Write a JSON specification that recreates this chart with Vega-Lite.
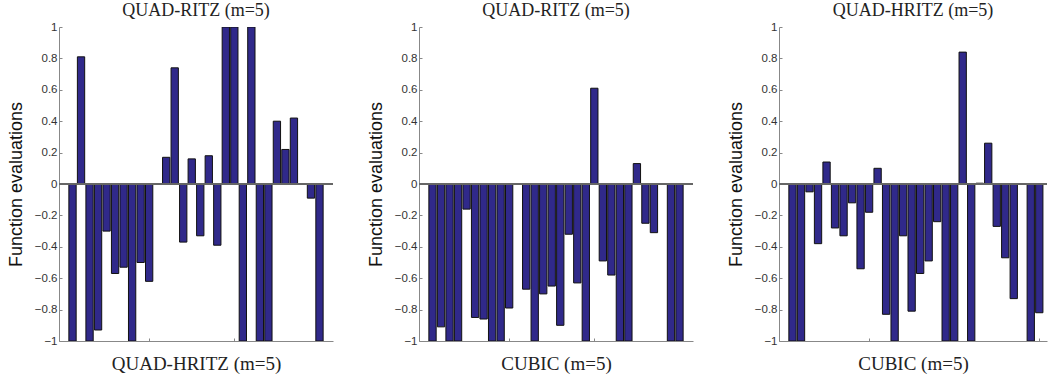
{
  "$schema": "https://vega.github.io/schema/vega-lite/v6.json",
  "padding": {"left": 7, "top": 2, "right": 0, "bottom": 0},
  "datasets": {
    "p1": [
      {"i": 1, "v": -1}, {"i": 2, "v": 0.81}, {"i": 3, "v": -1}, {"i": 4, "v": -0.93}, {"i": 5, "v": -0.3},
      {"i": 6, "v": -0.57}, {"i": 7, "v": -0.53}, {"i": 8, "v": -1}, {"i": 9, "v": -0.5}, {"i": 10, "v": -0.62},
      {"i": 11, "v": 0}, {"i": 12, "v": 0.17}, {"i": 13, "v": 0.74}, {"i": 14, "v": -0.37}, {"i": 15, "v": 0.16},
      {"i": 16, "v": -0.33}, {"i": 17, "v": 0.18}, {"i": 18, "v": -0.39}, {"i": 19, "v": 1}, {"i": 20, "v": 1},
      {"i": 21, "v": -1}, {"i": 22, "v": 1}, {"i": 23, "v": -1}, {"i": 24, "v": -1}, {"i": 25, "v": 0.4},
      {"i": 26, "v": 0.22}, {"i": 27, "v": 0.42}, {"i": 28, "v": 0}, {"i": 29, "v": -0.09}, {"i": 30, "v": -1}
    ],
    "p2": [
      {"i": 1, "v": -1}, {"i": 2, "v": -0.91}, {"i": 3, "v": -1}, {"i": 4, "v": -1}, {"i": 5, "v": -0.16},
      {"i": 6, "v": -0.85}, {"i": 7, "v": -0.86}, {"i": 8, "v": -1}, {"i": 9, "v": -1}, {"i": 10, "v": -0.79},
      {"i": 11, "v": 0}, {"i": 12, "v": -0.67}, {"i": 13, "v": -1}, {"i": 14, "v": -0.7}, {"i": 15, "v": -0.65},
      {"i": 16, "v": -0.9}, {"i": 17, "v": -0.32}, {"i": 18, "v": -0.63}, {"i": 19, "v": -1}, {"i": 20, "v": 0.61},
      {"i": 21, "v": -0.49}, {"i": 22, "v": -0.58}, {"i": 23, "v": -1}, {"i": 24, "v": -1}, {"i": 25, "v": 0.13},
      {"i": 26, "v": -0.25}, {"i": 27, "v": -0.31}, {"i": 28, "v": 0}, {"i": 29, "v": -1}, {"i": 30, "v": -1}
    ],
    "p3": [
      {"i": 1, "v": -1}, {"i": 2, "v": -1}, {"i": 3, "v": -0.05}, {"i": 4, "v": -0.38}, {"i": 5, "v": 0.14},
      {"i": 6, "v": -0.28}, {"i": 7, "v": -0.33}, {"i": 8, "v": -0.12}, {"i": 9, "v": -0.54}, {"i": 10, "v": -0.18},
      {"i": 11, "v": 0.1}, {"i": 12, "v": -0.83}, {"i": 13, "v": -1}, {"i": 14, "v": -0.33}, {"i": 15, "v": -0.81},
      {"i": 16, "v": -0.57}, {"i": 17, "v": -0.49}, {"i": 18, "v": -0.24}, {"i": 19, "v": -1}, {"i": 20, "v": -1},
      {"i": 21, "v": 0.84}, {"i": 22, "v": -1}, {"i": 23, "v": 0.005}, {"i": 24, "v": 0.26}, {"i": 25, "v": -0.27},
      {"i": 26, "v": -0.47}, {"i": 27, "v": -0.73}, {"i": 28, "v": 0}, {"i": 29, "v": -1}, {"i": 30, "v": -0.82}
    ]
  },
  "hconcat": [
    {
      "width": 274, "height": 314,
      "data": {"name": "p1"},
      "title": {"text": "QUAD-RITZ (m=5)"},
      "layer": [
        {
          "mark": {"type": "bar", "width": 7.3, "color": "#30298a", "stroke": "#111111", "strokeWidth": 1, "clip": true},
          "encoding": {
            "x": {"field": "i", "type": "quantitative", "scale": {"domain": [0, 31], "nice": false, "zero": false},
                  "axis": {"values": [10, 20, 30], "tickCount": 10, "labels": false, "title": "QUAD-HRITZ (m=5)"}},
            "y": {"field": "v", "type": "quantitative", "scale": {"domain": [-1, 1], "nice": false},
                  "axis": {"values": [-1, -0.8, -0.6, -0.4, -0.2, 0, 0.2, 0.4, 0.6, 0.8, 1], "tickCount": 20, "labelOverlap": false, "format": "~g", "title": "Function evaluations"}}
          }
        },
        {"mark": {"type": "rule", "color": "#666666", "strokeWidth": 1}, "encoding": {"y": {"datum": 0}}}
      ]
    },
    {
      "width": 274, "height": 314,
      "data": {"name": "p2"},
      "title": {"text": "QUAD-RITZ (m=5)"},
      "layer": [
        {
          "mark": {"type": "bar", "width": 7.3, "color": "#30298a", "stroke": "#111111", "strokeWidth": 1, "clip": true},
          "encoding": {
            "x": {"field": "i", "type": "quantitative", "scale": {"domain": [0, 31], "nice": false, "zero": false},
                  "axis": {"values": [10, 20, 30], "tickCount": 10, "labels": false, "title": "CUBIC (m=5)"}},
            "y": {"field": "v", "type": "quantitative", "scale": {"domain": [-1, 1], "nice": false},
                  "axis": {"values": [-1, -0.8, -0.6, -0.4, -0.2, 0, 0.2, 0.4, 0.6, 0.8, 1], "tickCount": 20, "labelOverlap": false, "format": "~g", "title": "Function evaluations"}}
          }
        },
        {"mark": {"type": "rule", "color": "#666666", "strokeWidth": 1}, "encoding": {"y": {"datum": 0}}}
      ]
    },
    {
      "width": 268, "height": 314,
      "data": {"name": "p3"},
      "title": {"text": "QUAD-HRITZ (m=5)"},
      "layer": [
        {
          "mark": {"type": "bar", "width": 7.3, "color": "#30298a", "stroke": "#111111", "strokeWidth": 1, "clip": true},
          "encoding": {
            "x": {"field": "i", "type": "quantitative", "scale": {"domain": [0, 30.32], "nice": false, "zero": false},
                  "axis": {"values": [10, 20, 30], "tickCount": 10, "labels": false, "title": "CUBIC (m=5)"}},
            "y": {"field": "v", "type": "quantitative", "scale": {"domain": [-1, 1], "nice": false},
                  "axis": {"values": [-1, -0.8, -0.6, -0.4, -0.2, 0, 0.2, 0.4, 0.6, 0.8, 1], "tickCount": 20, "labelOverlap": false, "format": "~g", "title": "Function evaluations"}}
          }
        },
        {"mark": {"type": "rule", "color": "#666666", "strokeWidth": 1}, "encoding": {"y": {"datum": 0}}}
      ]
    }
  ],
  "spacing": 86,
  "bounds": "flush",
  "config": {
    "view": {"stroke": null},
    "title": {"font": "Liberation Serif", "fontSize": 18, "fontWeight": "normal", "color": "#222222", "offset": 1, "anchor": "middle"},
    "axis": {
      "grid": false,
      "domainColor": "#888888",
      "tickColor": "#888888",
      "tickSize": -3,
      "labelFont": "Liberation Sans",
      "labelFontSize": 11.5,
      "labelColor": "#333333",
      "labelPadding": 5,
      "labelFlush": false
    },
    "axisX": {
      "titleFont": "Liberation Serif",
      "titleFontSize": 19,
      "titleFontWeight": "normal",
      "titleColor": "#222222",
      "titlePadding": 13
    },
    "axisY": {
      "titleFont": "Liberation Sans",
      "titleFontSize": 18,
      "titleFontWeight": "normal",
      "titleColor": "#111111",
      "titlePadding": 9
    }
  }
}
